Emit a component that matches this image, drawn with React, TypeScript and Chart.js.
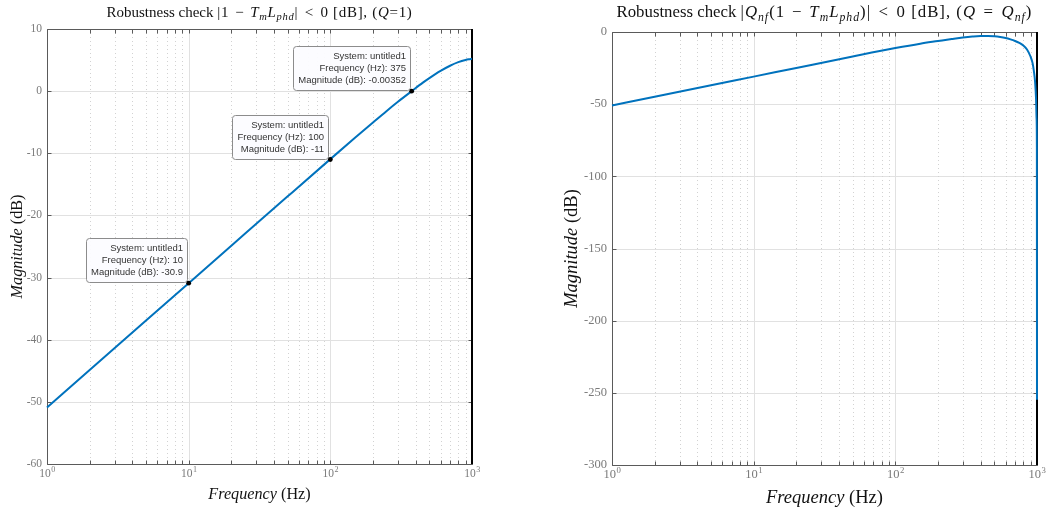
import React, { useEffect, useRef } from 'react';
import { Chart, registerables } from 'chart.js';

Chart.register(...registerables);

// ---------------- data ----------------
const freqLeft = [1, 2, 5, 10, 20, 50, 100, 150, 200, 250, 300, 375, 450, 500, 600, 700, 800, 900, 950, 1000];
const magLeft = [-50.9, -44.88, -36.92, -30.9, -24.88, -16.93, -10.94, -7.47, -5.04, -3.18, -1.71, -0.00352, 1.37, 2.1, 3.26, 4.09, 4.66, 5.02, 5.13, 5.2];

const freqRight = [1, 2, 5, 10, 20, 50, 100, 150, 200, 250, 300, 350, 400, 450, 500, 550, 600, 650, 700, 750, 800, 850, 900, 930, 950, 970, 985, 993, 998, 1000];
const magRight = [-50.9, -44.9, -36.92, -30.92, -24.9, -16.97, -11.14, -8.07, -6.24, -4.83, -3.76, -3.1, -2.78, -2.78, -3.0, -3.47, -4.14, -5.09, -6.21, -7.59, -9.34, -12.13, -16.98, -21.4, -26.9, -34.8, -46.8, -59.8, -79.8, -254.8];

const xMajorTicks = [1, 10, 100, 1000];
const xTickExponents = ['0', '1', '2', '3'];
const xMinorMultipliers = [2, 3, 4, 5, 6, 7, 8, 9];
const yTicksLeft = [10, 0, -10, -20, -30, -40, -50, -60];
const yTicksRight = [0, -50, -100, -150, -200, -250, -300];
const tipFreqs = [10, 100, 375];
const tipMags = [-30.9, -11, -0.00352];
const tipSystem = 'untitled1';
const nyquistFreq = 1000;

// ---------------- styles ----------------
const SERIF = '"Liberation Serif", "Times New Roman", serif';
const SANS = '"Liberation Sans", Arial, sans-serif';
const LINE = '#0072BD';
const GRID = '#e1e1e1';
const MINOR = '#d2d2d2';
const AXIS = '#5a5a5a';
const TICKTXT = '#7a7a7a';

// g = extra gap (in em) drawn before the segment, m = math segment (slight letter spacing)
type Seg = { t: string; it?: boolean; sub?: boolean; m?: boolean; g?: number };

const titleLeft: Seg[] = [
  { t: 'Robustness check ' },
  { t: '|1 ', m: true },
  { t: '\u2212', m: true, g: 0.1 },
  { t: ' ', m: true, g: 0.1 },
  { t: 'T', it: true, m: true }, { t: 'm', it: true, sub: true, m: true },
  { t: 'L', it: true, m: true }, { t: 'phd', it: true, sub: true, m: true },
  { t: '| ', m: true }, { t: '<', m: true, g: 0.14 }, { t: ' 0', m: true, g: 0.14 },
  { t: ' [dB], (', m: true }, { t: 'Q', it: true, m: true }, { t: '=1)', m: true },
];
const titleRight: Seg[] = [
  { t: 'Robustness check ' },
  { t: '|', m: true },
  { t: 'Q', it: true, m: true }, { t: 'nf', it: true, sub: true, m: true },
  { t: '(1 ', m: true },
  { t: '\u2212', m: true, g: 0.1 },
  { t: ' ', m: true, g: 0.1 },
  { t: 'T', it: true, m: true }, { t: 'm', it: true, sub: true, m: true },
  { t: 'L', it: true, m: true }, { t: 'phd', it: true, sub: true, m: true },
  { t: ')| ', m: true }, { t: '<', m: true, g: 0.14 }, { t: ' 0', m: true, g: 0.14 },
  { t: ' [dB], (', m: true }, { t: 'Q', it: true, m: true }, { t: ' ', m: true },
  { t: '=', m: true, g: 0.14 }, { t: ' ', m: true, g: 0.14 },
  { t: 'Q', it: true, m: true }, { t: 'nf', it: true, sub: true, m: true }, { t: ')', m: true },
];
const xTitle: Seg[] = [{ t: 'Frequency', it: true }, { t: ' (Hz)' }];
const yTitle: Seg[] = [{ t: 'Magnitude', it: true }, { t: ' (dB)' }];

function segFont(s: Seg, size: number) {
  const sz = s.sub ? size * 0.7 : size;
  return `${s.it ? 'italic ' : ''}${sz}px ${SERIF}`;
}

function drawRich(ctx: any, segs: Seg[], cx: number, cy: number, size: number, color: string, rot = 0, mathSpacing = 0) {
  ctx.save();
  ctx.translate(cx, cy);
  ctx.rotate(rot);
  ctx.textBaseline = 'alphabetic';
  ctx.textAlign = 'left';
  let total = 0;
  const widths = segs.map((s) => {
    ctx.font = segFont(s, size);
    ctx.letterSpacing = s.m ? `${mathSpacing}px` : '0px';
    const w = ctx.measureText(s.t).width + (s.g || 0) * size;
    total += w;
    return w;
  });
  let x = -total / 2;
  ctx.fillStyle = color;
  segs.forEach((s, i) => {
    ctx.font = segFont(s, size);
    ctx.letterSpacing = s.m ? `${mathSpacing}px` : '0px';
    ctx.fillText(s.t, x + (s.g || 0) * size, s.sub ? size * 0.22 : 0);
    x += widths[i];
  });
  ctx.letterSpacing = '0px';
  ctx.restore();
}

type PanelCfg = {
  freq: number[];
  mag: number[];
  yTicks: number[];
  yMin: number;
  yMax: number;
  title: Seg[];
  titleSize: number;
  mathSpacing: number;
  axisTitleSize: number;
  xTitleY: number;
  tickSize: number;
  tips: boolean;
  width: number;
  pad: { top: number; right: number; bottom: number };
  yAxisWidth: number;
  yTitleX: number;
};

function makeDecor(cfg: PanelCfg) {
  const minor: number[] = [];
  for (let i = 0; i < xMajorTicks.length - 1; i++) {
    for (const m of xMinorMultipliers) minor.push(xMajorTicks[i] * m);
  }
  return {
    id: 'decor',
    beforeDatasetsDraw(chart: any) {
      const { ctx, chartArea: a, scales } = chart;
      const x = scales.x, y = scales.y;
      ctx.save();
      ctx.lineWidth = 1;
      ctx.strokeStyle = GRID;
      for (const v of cfg.yTicks) {
        const py = Math.round(y.getPixelForValue(v)) + 0.5;
        ctx.beginPath(); ctx.moveTo(a.left, py); ctx.lineTo(a.right, py); ctx.stroke();
      }
      ctx.strokeStyle = MINOR;
      ctx.setLineDash([1, 3]);
      for (const v of minor) {
        const px = Math.round(x.getPixelForValue(v)) + 0.5;
        ctx.beginPath(); ctx.moveTo(px, a.top); ctx.lineTo(px, a.bottom); ctx.stroke();
      }
      ctx.setLineDash([]);
      ctx.strokeStyle = GRID;
      for (const v of xMajorTicks) {
        const px = Math.round(x.getPixelForValue(v)) + 0.5;
        ctx.beginPath(); ctx.moveTo(px, a.top); ctx.lineTo(px, a.bottom); ctx.stroke();
      }
      // axes box
      ctx.strokeStyle = AXIS;
      ctx.lineWidth = 1;
      const L = Math.round(a.left) + 0.5, R = Math.round(a.right) + 0.5;
      const T = Math.round(a.top) + 0.5, B = Math.round(a.bottom) + 0.5;
      ctx.beginPath();
      ctx.moveTo(L, T); ctx.lineTo(R, T); ctx.lineTo(R, B); ctx.lineTo(L, B); ctx.closePath();
      ctx.stroke();
      const tl = 4;
      for (const v of [...xMajorTicks, ...minor]) {
        const px = Math.round(x.getPixelForValue(v)) + 0.5;
        ctx.beginPath();
        ctx.moveTo(px, B); ctx.lineTo(px, B - tl);
        ctx.moveTo(px, T); ctx.lineTo(px, T + tl);
        ctx.stroke();
      }
      for (const v of cfg.yTicks) {
        const py = Math.round(y.getPixelForValue(v)) + 0.5;
        ctx.beginPath();
        ctx.moveTo(L, py); ctx.lineTo(L + tl, py);
        ctx.moveTo(R, py); ctx.lineTo(R - tl, py);
        ctx.stroke();
      }
      // Nyquist line
      const nx = x.getPixelForValue(nyquistFreq);
      ctx.strokeStyle = '#000';
      ctx.lineWidth = 2;
      ctx.beginPath(); ctx.moveTo(nx, a.top); ctx.lineTo(nx, a.bottom); ctx.stroke();
      ctx.restore();
    },
    afterDatasetsDraw(chart: any) {
      const { ctx, chartArea: a, scales } = chart;
      const x = scales.x, y = scales.y;
      ctx.save();
      // x tick labels with superscripts
      ctx.fillStyle = TICKTXT;
      ctx.textBaseline = 'alphabetic';
      ctx.textAlign = 'left';
      const bs = cfg.tickSize, es = cfg.tickSize * 0.7;
      xMajorTicks.forEach((v, i) => {
        const px = x.getPixelForValue(v);
        ctx.font = `${bs}px ${SERIF}`;
        const wb = ctx.measureText('10').width;
        ctx.font = `${es}px ${SERIF}`;
        const we = ctx.measureText(xTickExponents[i]).width;
        const x0 = px - (wb + we) / 2;
        ctx.font = `${bs}px ${SERIF}`;
        ctx.fillText('10', x0, a.bottom + 13);
        ctx.font = `${es}px ${SERIF}`;
        ctx.fillText(xTickExponents[i], x0 + wb + 0.5, a.bottom + 8);
      });

      // titles
      const cx = (a.left + a.right) / 2;
      drawRich(ctx, cfg.title, cx, 17, cfg.titleSize, '#111', 0, cfg.mathSpacing);
      drawRich(ctx, xTitle, cx, cfg.xTitleY, cfg.axisTitleSize, '#111');
      drawRich(ctx, yTitle, cfg.yTitleX, (a.top + a.bottom) / 2, cfg.axisTitleSize, '#111', -Math.PI / 2);

      // data tips
      if (cfg.tips) {
        tipFreqs.forEach((f, i) => {
          const px = x.getPixelForValue(f);
          const py = y.getPixelForValue(tipMags[i]);
          const lines = [
            `System: ${tipSystem}`,
            `Frequency (Hz): ${f}`,
            `Magnitude (dB): ${tipMags[i]}`,
          ];
          ctx.font = `9.5px ${SANS}`;
          const mw = Math.max(...lines.map((l) => ctx.measureText(l).width));
          const w = Math.round(mw + 9);
          const h = 44;
          const bx = Math.round(px - 2 - w) + 0.5;
          const by = Math.round(py - 1 - h) + 0.5;
          ctx.beginPath();
          ctx.roundRect(bx, by, w, h, 3);
          ctx.fillStyle = 'rgba(252,252,255,0.95)';
          ctx.fill();
          ctx.strokeStyle = '#8c8c8c';
          ctx.lineWidth = 1;
          ctx.stroke();
          ctx.fillStyle = '#333';
          ctx.textAlign = 'right';
          lines.forEach((l, k) => ctx.fillText(l, bx + w - 4.5, by + 12 + k * 12.3));
          ctx.textAlign = 'left';
          ctx.beginPath();
          ctx.arc(px, py, 2.4, 0, Math.PI * 2);
          ctx.fillStyle = '#000';
          ctx.fill();
        });
      }
      ctx.restore();
    },
  };
}

function Panel({ cfg, left }: { cfg: PanelCfg; left: number }) {
  const ref = useRef<HTMLCanvasElement | null>(null);
  useEffect(() => {
    if (!ref.current) return;
    const chart = new Chart(ref.current, {
      type: 'line',
      data: {
        datasets: [
          {
            data: cfg.freq.map((f, i) => ({ x: f, y: cfg.mag[i] })),
            borderColor: LINE,
            borderWidth: 2,
            pointRadius: 0,
            fill: false,
            cubicInterpolationMode: 'monotone',
            clip: false as any,
          },
        ],
      },
      options: {
        animation: false,
        responsive: false,
        devicePixelRatio: 1,
        events: [],
        layout: { padding: { left: 0, top: cfg.pad.top, right: cfg.pad.right, bottom: cfg.pad.bottom } },
        plugins: { legend: { display: false }, tooltip: { enabled: false }, title: { display: false } },
        scales: {
          x: {
            type: 'logarithmic',
            min: 1,
            max: 1000,
            display: false,
          },
          y: {
            type: 'linear',
            min: cfg.yMin,
            max: cfg.yMax,
            afterBuildTicks: (s: any) => {
              s.ticks = cfg.yTicks.map((v) => ({ value: v }));
            },
            afterFit: (s: any) => {
              s.width = cfg.yAxisWidth;
            },
            grid: { display: false, drawTicks: false },
            border: { display: false },
            ticks: {
              font: { family: SERIF, size: cfg.tickSize },
              color: TICKTXT,
              padding: 5,
              callback: (v: any) => String(v),
            },
          },
        },
      },
      plugins: [makeDecor(cfg) as any],
    } as any);
    return () => chart.destroy();
  }, [cfg]);
  return (
    <canvas
      ref={ref}
      width={cfg.width}
      height={511}
      style={{ position: 'absolute', left, top: 0, width: cfg.width, height: 511 }}
    />
  );
}

const cfgLeft: PanelCfg = {
  freq: freqLeft,
  mag: magLeft,
  yTicks: yTicksLeft,
  yMin: -60,
  yMax: 10,
  title: titleLeft,
  titleSize: 15,
  mathSpacing: 0.7,
  axisTitleSize: 16.2,
  xTitleY: 499,
  tickSize: 11.5,
  tips: true,
  width: 523,
  pad: { top: 29, right: 51, bottom: 47 },
  yAxisWidth: 47,
  yTitleX: 22,
};

const cfgRight: PanelCfg = {
  freq: freqRight,
  mag: magRight,
  yTicks: yTicksRight,
  yMin: -300,
  yMax: 0,
  title: titleRight,
  titleSize: 16.8,
  mathSpacing: 1.0,
  axisTitleSize: 18.5,
  xTitleY: 503,
  tickSize: 12.5,
  tips: false,
  width: 524,
  pad: { top: 32, right: 10, bottom: 46 },
  yAxisWidth: 89,
  yTitleX: 54,
};

export default function App() {
  return (
    <div style={{ position: 'absolute', left: 0, top: 0, width: 1047, height: 511, background: '#fff', overflow: 'hidden' }}>
      <Panel cfg={cfgLeft} left={0} />
      <Panel cfg={cfgRight} left={523} />
    </div>
  );
}
